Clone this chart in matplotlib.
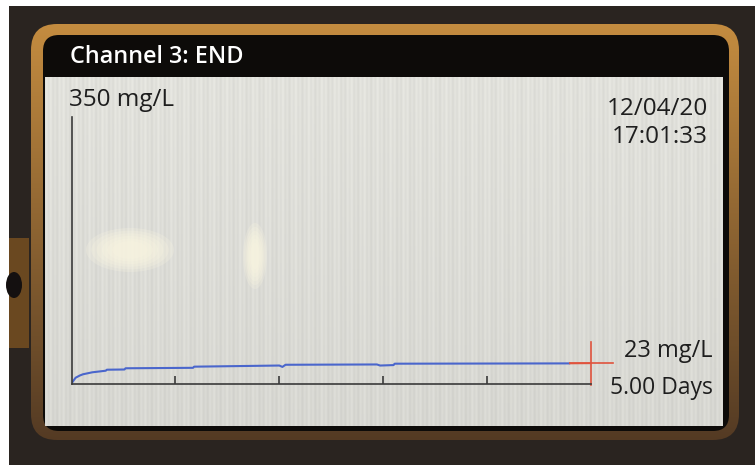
import numpy as np
import matplotlib
matplotlib.use("Agg")
import matplotlib.pyplot as plt
from matplotlib.patches import FancyBboxPatch, Rectangle, Ellipse

# trend (days, mg/L)
days = [0, 0.02, 0.04, 0.08, 0.11, 0.2, 0.33, 0.34, 0.51, 0.52, 1.17, 1.18,
        2.0, 2.03, 2.06, 2.94, 2.97, 3.1, 3.11, 4.8]
mgl = [0, 4, 7.6, 10.5, 12.1, 14.7, 16.8, 18.1, 18.4, 20.0, 20.6, 22.1,
       23.6, 21.8, 24.6, 25.0, 23.6, 24.2, 26.0, 26.4]
# last stretch drawn in red up to the cursor
red_days = [4.8, 5.0]
red_mgl = [26.4, 26.6]
cursor_day = 5.0
cursor_val = 26.6

title = "Channel 3: END"
y_max_label = "350 mg/L"
date_label = "12/04/20"
time_label = "17:01:33"
value_label = "23 mg/L"
span_label = "5.00 Days"
x_ticks = [1, 2, 3, 4]

W, H = 755, 465
fig = plt.figure(figsize=(W / 100, H / 100), dpi=100, facecolor="#2a2420")

# background layer in pixel coordinates
bg = fig.add_axes([0, 0, 1, 1], zorder=0)
bg.set_xlim(0, W)
bg.set_ylim(H, 0)
bg.axis("off")

bg.add_patch(Rectangle((0, 0), W, 6, color="white", lw=0))
bg.add_patch(Rectangle((0, 0), 9, H, color="white", lw=0))
bg.add_patch(Rectangle((9, 238), 20, 110, color="#6a4820", lw=0))
bg.add_patch(Ellipse((14, 285), 16, 26, color="#141010", lw=0))

# bezel with a top-to-bottom shading
bezel = FancyBboxPatch((31, 24), 708, 416, boxstyle="round,pad=0,rounding_size=26",
                       fc="none", ec="none")
bg.add_patch(bezel)
t = np.linspace(0, 1, 200)[:, None]
top_c = np.array([0.77, 0.55, 0.25])
bot_c = np.array([0.33, 0.23, 0.14])
grad = (top_c * (1 - t) + bot_c * t)[:, None, :]
im = bg.imshow(grad, extent=(31, 739, 440, 24), aspect="auto", zorder=1)
im.set_clip_path(bezel)

bg.add_patch(FancyBboxPatch((43, 35), 686, 396, boxstyle="round,pad=0,rounding_size=16",
                            fc="#0d0b09", ec="none", zorder=2))

# screen with faint vertical raster lines
sx0, sx1, sy0, sy1 = 45, 723, 78, 426
xs = np.arange(sx1 - sx0)
ys = np.linspace(0, 1, 60)[:, None]
shade = 0.885 + 0.016 * np.sin(2 * np.pi * xs / 4.3) + 0.01 * np.sin(2 * np.pi * xs / 13.7)
shade = shade[None, :] - 0.04 * ys
screen = np.clip(shade[:, :, None] * np.array([1.0, 1.0, 0.975]), 0, 1)
bg.imshow(screen, extent=(sx0, sx1, sy1, sy0), aspect="auto", zorder=3)

# soft glare patches from the photo
for k in range(6):
    f = 1 - k * 0.12
    bg.add_patch(Ellipse((130, 250), 88 * f, 44 * f, color="#fbf7e2", alpha=0.24, lw=0, zorder=4))
    bg.add_patch(Ellipse((255, 256), 24 * f, 66 * f, color="#fbf7e2", alpha=0.24, lw=0, zorder=4))

font = ["Open Sans", "DejaVu Sans"]
bg.text(70, 63, title, color="white", fontsize=16.8, fontweight="semibold",
        family=font, va="baseline", ha="left", zorder=5)
bg.text(69, 106, y_max_label, color="#1e1e1e", fontsize=17.5, family=font,
        va="baseline", ha="left", zorder=5)
bg.text(708, 115, date_label, color="#1e1e1e", fontsize=17.5, family=font,
        va="baseline", ha="right", zorder=5)
bg.text(708, 143, time_label, color="#1e1e1e", fontsize=17.5, family=font,
        va="baseline", ha="right", zorder=5)
bg.text(713, 357, value_label, color="#1e1e1e", fontsize=17, family=font,
        va="baseline", ha="right", zorder=5)
bg.text(713, 394, span_label, color="#1e1e1e", fontsize=16.5, family=font,
        va="baseline", ha="right", zorder=5)

# trend axes
x0, x1, y0, y1 = 71.5, 591, 383.5, 117
ax = fig.add_axes([x0 / W, (H - y0) / H, (x1 - x0) / W, (y0 - y1) / H], zorder=2)
ax.patch.set_alpha(0)
ax.set_xlim(0, 5)
ax.set_ylim(0, 350)
for s in ["top", "right"]:
    ax.spines[s].set_visible(False)
for s in ["left", "bottom"]:
    ax.spines[s].set_color("#3a3a3a")
    ax.spines[s].set_linewidth(1.2)
ax.set_xticks(x_ticks)
ax.set_xticklabels([])
ax.tick_params(axis="x", direction="in", length=5.5, width=1.2, color="#3a3a3a")
ax.set_yticks([])

ax.plot(days, mgl, color="#4a66cc", lw=1.5, solid_capstyle="butt")
ax.plot(red_days, red_mgl, color="#e0533d", lw=1.3)
ax.plot([cursor_day - 0.2, cursor_day + 0.21], [cursor_val, cursor_val],
        color="#e0533d", lw=1.2, clip_on=False)
ax.plot([cursor_day, cursor_day], [-2.5, 54], color="#e0533d", lw=1.2, clip_on=False)

fig.savefig("out.png", dpi=100, facecolor=fig.get_facecolor())
